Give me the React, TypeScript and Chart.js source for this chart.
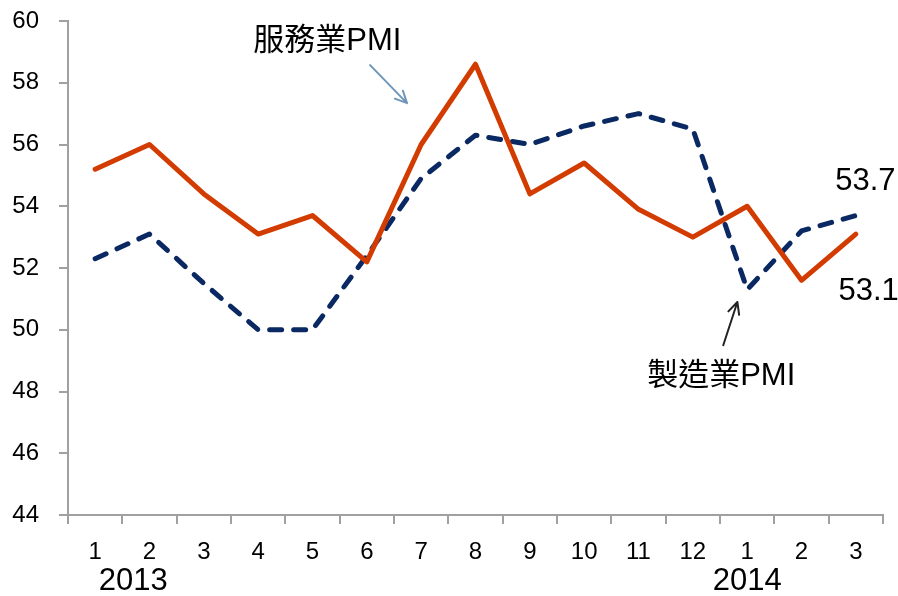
import React, { useEffect, useRef } from "react";
import { Chart, registerables } from "chart.js";

Chart.register(...registerables);

const months = ["1", "2", "3", "4", "5", "6", "7", "8", "9", "10", "11", "12", "1", "2", "3"];
const servicePMI = [55.2, 56.0, 54.4, 53.1, 53.7, 52.2, 56.0, 58.6, 54.4, 55.4, 53.9, 53.0, 54.0, 51.6, 53.1];
const manufacturingPMI = [52.3, 53.1, 51.5, 50.0, 50.0, 52.4, 54.9, 56.3, 56.0, 56.6, 57.0, 56.5, 51.3, 53.2, 53.7];
const yearLabels = ["2013", "2014"];
const yearIndex = [0.7, 12];
const serviceName = "服務業PMI";
const manufacturingName = "製造業PMI";

const FONT = '"Liberation Sans", Arial, "Noto Sans CJK TC", sans-serif';
const AXIS = "#a0a0a0";

function arrow(ctx: CanvasRenderingContext2D, x1: number, y1: number, x2: number, y2: number, color: string) {
  ctx.save();
  ctx.strokeStyle = color;
  ctx.lineWidth = 2;
  ctx.lineCap = "round";
  ctx.beginPath();
  ctx.moveTo(x1, y1);
  ctx.lineTo(x2, y2);
  const a = Math.atan2(y2 - y1, x2 - x1);
  const L = 13;
  ctx.moveTo(x2, y2);
  ctx.lineTo(x2 - L * Math.cos(a - 0.45), y2 - L * Math.sin(a - 0.45));
  ctx.moveTo(x2, y2);
  ctx.lineTo(x2 - L * Math.cos(a + 0.45), y2 - L * Math.sin(a + 0.45));
  ctx.stroke();
  ctx.restore();
}

const annotationPlugin = {
  id: "annotations",
  afterDraw(chart: any) {
    const { ctx, scales, chartArea } = chart;
    const x = scales.x;
    const y = scales.y;
    ctx.save();
    ctx.fillStyle = "#000";
    ctx.textBaseline = "middle";
    ctx.font = `31px ${FONT}`;
    ctx.textAlign = "left";
    const last = months.length - 1;
    ctx.fillText(manufacturingPMI[last].toFixed(1), x.getPixelForValue(13.62), y.getPixelForValue(54.79));
    ctx.fillText(servicePMI[last].toFixed(1), x.getPixelForValue(13.68), y.getPixelForValue(51.25));
    ctx.fillText(serviceName, x.getPixelForValue(2.91), y.getPixelForValue(59.35));
    ctx.fillText(manufacturingName, x.getPixelForValue(10.16), y.getPixelForValue(48.5));
    ctx.textAlign = "center";
    yearLabels.forEach((t, i) => {
      ctx.fillText(t, x.getPixelForValue(yearIndex[i]), chartArea.bottom + 66);
    });
    ctx.restore();
    arrow(ctx, x.getPixelForValue(5.06), y.getPixelForValue(58.57), x.getPixelForValue(5.74), y.getPixelForValue(57.34), "#6f96ba");
    arrow(ctx, x.getPixelForValue(11.56), y.getPixelForValue(49.5), x.getPixelForValue(11.82), y.getPixelForValue(50.9), "#222222");
  },
};

export default function App() {
  const ref = useRef<HTMLCanvasElement>(null);
  useEffect(() => {
    if (!ref.current) return;
    const chart = new Chart(ref.current, {
      type: "line",
      data: {
        labels: months,
        datasets: [
          {
            label: serviceName,
            data: servicePMI,
            borderColor: "#d23c00",
            borderWidth: 5,
            pointRadius: 0,
            tension: 0,
            borderJoinStyle: "round",
            borderCapStyle: "round",
          },
          {
            label: manufacturingName,
            data: manufacturingPMI,
            borderColor: "#0a2862",
            borderWidth: 5,
            pointRadius: 0,
            tension: 0,
            borderDash: [12, 12],
            borderJoinStyle: "round",
            borderCapStyle: "round",
          },
        ],
      },
      options: {
        animation: false,
        responsive: false,
        maintainAspectRatio: false,
        layout: { padding: { left: 0, top: 21, right: 15, bottom: 0 } },
        plugins: { legend: { display: false }, tooltip: { enabled: false } },
        scales: {
          x: {
            offset: true,
            grid: {
              offset: true,
              drawOnChartArea: false,
              drawTicks: true,
              tickLength: 9,
              color: AXIS,
              lineWidth: 2,
            },
            border: { display: true, color: AXIS, width: 2 },
            ticks: { color: "#000", font: { family: FONT, size: 24 }, padding: 14, maxRotation: 0, autoSkip: false },
            afterFit: (s: any) => {
              s.height = 81;
              s.paddingLeft = 0;
              s.paddingRight = 0;
            },
          },
          y: {
            min: 44,
            max: 60,
            ticks: { stepSize: 2, color: "#000", font: { family: FONT, size: 24 }, padding: 20 },
            grid: {
              drawOnChartArea: false,
              drawTicks: true,
              tickLength: 9,
              color: AXIS,
              lineWidth: 2,
            },
            border: { display: true, color: AXIS, width: 2 },
            afterFit: (s: any) => {
              s.width = 68;
              s.paddingTop = 0;
              s.paddingBottom = 0;
            },
          },
        },
      },
      plugins: [annotationPlugin],
    });
    return () => chart.destroy();
  }, []);
  return (
    <div style={{ position: "absolute", left: 0, top: 0, width: 898, height: 596, background: "#fff" }}>
      <canvas ref={ref} width={898} height={596} style={{ display: "block" }} />
    </div>
  );
}
